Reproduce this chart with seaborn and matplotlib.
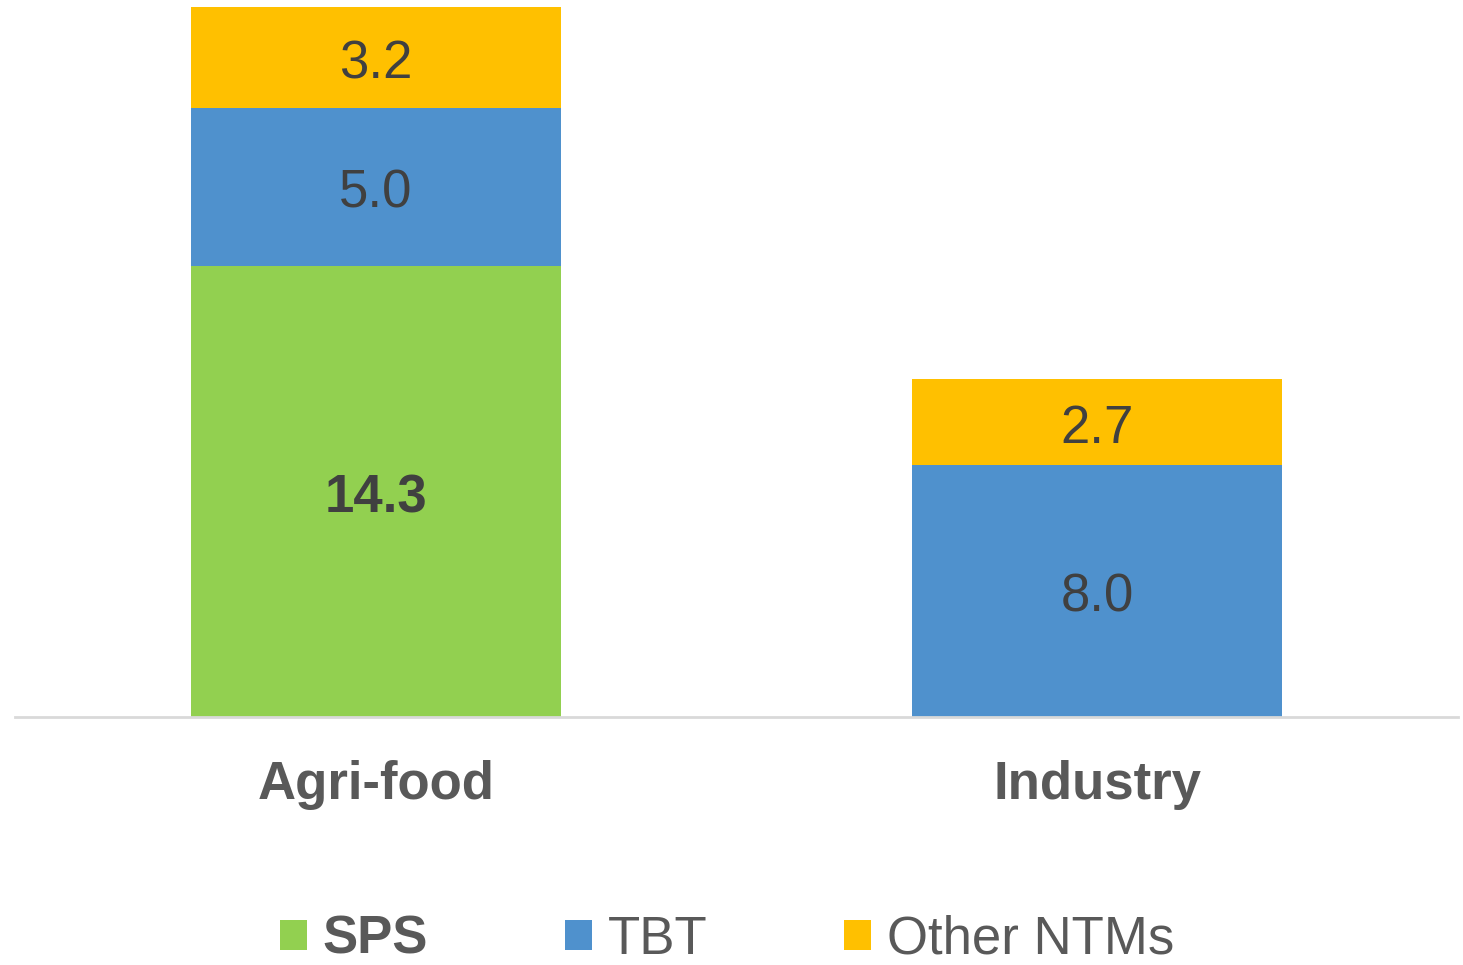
import numpy as np
import pandas as pd
import matplotlib
matplotlib.use("Agg")
import matplotlib.pyplot as plt
import seaborn as sns
from matplotlib.patches import Patch

sectors = ["Agri-food", "Industry"]
sps = [14.3, 0.0]
tbt = [5.0, 8.0]
other = [3.2, 2.7]

series = ["SPS", "TBT", "Other NTMs"]
colors = ["#92D050", "#4F91CD", "#FFC000"]

sns.set_style("white")
plt.rcParams["font.family"] = ["Liberation Sans", "DejaVu Sans"]

fig = plt.figure(figsize=(14.63, 9.65), dpi=100)
ax = fig.add_axes([15 / 1463, (965 - 717) / 965, 1443 / 1463, 710 / 965])

values = np.array([sps, tbt, other])
cum = values.cumsum(axis=0)

# draw the tallest stack first, then overlay the lower parts
for i in range(len(series) - 1, -1, -1):
    df = pd.DataFrame({"sector": sectors, "value": cum[i]})
    sns.barplot(data=df, x="sector", y="value", color=colors[i], width=0.513,
                saturation=1, ax=ax, edgecolor="none", linewidth=0)

# segment labels
for i, s in enumerate(series):
    for j in range(len(sectors)):
        v = values[i, j]
        if v <= 0:
            continue
        mid = cum[i, j] - v / 2
        ax.text(j, mid - 0.05, f"{v:.1f}", ha="center", va="center_baseline", fontsize=38,
                color="#404040", fontweight="bold" if s == "SPS" else "normal")

ax.set_xlim(-0.5, 1.5)
ax.set_ylim(0, 22.5)
ax.set_xlabel("")
ax.set_ylabel("")
ax.set_yticks([])
for side in ["top", "right", "left"]:
    ax.spines[side].set_visible(False)
ax.spines["bottom"].set_color("#D9D9D9")
ax.spines["bottom"].set_linewidth(2)
ax.tick_params(axis="x", length=0, pad=31)
for lab in ax.get_xticklabels():
    lab.set_fontsize(38)
    lab.set_fontweight("bold")
    lab.set_color("#595959")

handles = [Patch(facecolor=c, edgecolor="none") for c in colors]
leg = fig.legend(handles, series, loc="center", bbox_to_anchor=(0.497, 1 - 940 / 965),
                 ncol=3, frameon=False, fontsize=38, handlelength=0.5,
                 handleheight=0.5, handletextpad=0.3, columnspacing=2.6)
for t in leg.get_texts():
    t.set_color("#595959")
leg.get_texts()[0].set_fontweight("bold")

fig.savefig("out.png", dpi=100)
